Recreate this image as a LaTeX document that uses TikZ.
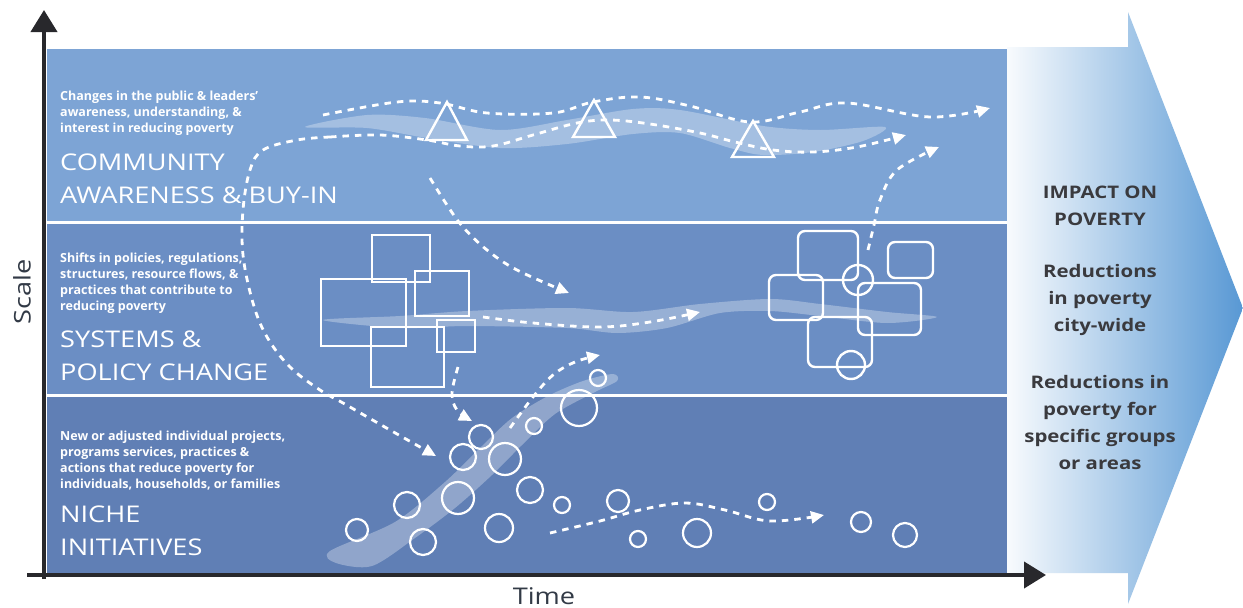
\documentclass[tikz,border=0pt]{standalone}
\usepackage{fontspec}
\setmainfont{Open Sans}
\newfontfamily\widefont{Open Sans}[FakeStretch=1.18]
\usetikzlibrary{arrows.meta}
\definecolor{topband}{RGB}{125,164,213}
\definecolor{midband}{RGB}{107,142,196}
\definecolor{botband}{RGB}{96,127,181}
\definecolor{axisgray}{RGB}{40,40,44}
\definecolor{arrowblue}{RGB}{88,152,212}
\definecolor{textgray}{RGB}{58,58,62}
\definecolor{labelgray}{RGB}{50,58,70}
\begin{document}
\begin{tikzpicture}[x=1pt,y=-1pt,
  shapeline/.style={draw=white, line width=2.4pt},
  roundbox/.style={draw=white, line width=2.4pt, rounded corners=7pt},
  flow/.style={draw=white, line width=2.8pt, dash pattern=on 6.5pt off 6pt, -{Triangle[length=13pt,width=12pt]}},
  stripe/.style={fill=white, fill opacity=0.3},
  axisline/.style={draw=axisgray, line width=4pt, -{Triangle[length=22pt,width=26pt]}},
  smalltxt/.style={text=white, align=left, inner sep=0pt, font=\bfseries\fontsize{12.5}{16}\selectfont},
  bigtxt/.style={text=white, align=left, inner sep=0pt, font=\widefont\fontsize{23}{33}\selectfont},
  impacttxt/.style={text=textgray, align=center, inner sep=0pt, font=\widefont\bfseries\fontsize{17.3}{27}\selectfont},
  axistxt/.style={text=labelgray, inner sep=0pt, font=\widefont\fontsize{23}{24}\selectfont}]
\useasboundingbox (0,0) rectangle (1243,608);
\fill[white] (0,0) rectangle (1243,608);
% big impact arrow
\shade[left color=white!96!arrowblue, right color=arrowblue]
  (1007,47) -- (1128,47) -- (1128,12) -- (1243,308) -- (1128,604) -- (1128,573) -- (1007,573) -- cycle;
% bands
\fill[topband] (47,49) rectangle (1007,221);
\fill[midband] (47,224) rectangle (1007,394);
\fill[botband] (47,397) rectangle (1007,574);
% stripes
\fill[stripe] plot[smooth cycle, tension=0.5] coordinates {(305,127) (367,115) (425,118) (500,130) (567,120) (633,109) (680,110) (763,126) (820,130) (885,127) (863,141) (813,152) (763,155) (730,148) (680,133) (633,134) (567,144) (500,148) (427,138) (367,128)};
\fill[stripe] plot[smooth cycle, tension=0.5] coordinates {(323,320) (400,316) (467,311) (567,308) (633,312) (700,304) (770,299) (820,304) (887,312) (937,317) (887,323) (820,316) (770,311) (720,313) (667,328) (617,333) (567,328) (467,326) (400,328)};
\fill[stripe] plot[smooth cycle, tension=0.5] coordinates {(330,551) (395,522) (445,482) (482,446) (512,418) (548,396) (583,381) (613,374) (617,381) (595,392) (555,414) (522,445) (492,475) (455,508) (415,538) (372,566) (336,563)};
% triangles
\draw[shapeline, line join=miter] (426,140) -- (447,102) -- (467,140) -- cycle;
\draw[shapeline, line join=miter] (573,137) -- (594,100) -- (615,137) -- cycle;
\draw[shapeline, line join=miter] (732,157) -- (753,121) -- (774,157) -- cycle;
% squares
\draw[shapeline] (372,235) rectangle (430,282);
\draw[shapeline] (321,279) rectangle (406,346);
\draw[shapeline] (415,271) rectangle (469,316);
\draw[shapeline] (371,327) rectangle (444,387);
\draw[shapeline] (437,320) rectangle (475,352);
% rounded squares
\draw[roundbox] (798,231) rectangle (858,280);
\draw[roundbox] (769,275) rectangle (823,320);
\draw[roundbox] (858,283) rectangle (921,335);
\draw[roundbox] (888,242) rectangle (933,278);
\draw[roundbox] (808,317) rectangle (872,367);
\draw[shapeline] (858,280) circle[radius=15pt];
\draw[shapeline] (851,365) circle[radius=14pt];
% circles
\foreach \cx/\cy/\r in {357/530/11, 407/505/13, 423/542/13, 458/498/16, 463/457/13, 481/437/12, 505/459/16, 499/528/14, 530/490/13, 534/426/8, 562/505/8, 579/408/18, 598/378/8, 618/501/11, 638/539/8, 697/533/14, 767/502/8, 861/522/10, 905/535/12}
  \draw[white, line width=2.2pt] (\cx,\cy) circle[radius=\r pt];
% dividers
\draw[white, line width=3pt] (47,222.5) -- (1007,222.5);
\draw[white, line width=3pt] (47,395.5) -- (1007,395.5);
% flows
\coordinate (split) at (330,137);
\draw[flow] plot[smooth, tension=0.6] coordinates {(323,115) (397,102) (440,103) (487,113) (553,113) (593,102) (640,97) (690,106) (750,122) (800,112) (847,103) (930,117) (990,108)};
\draw[flow] plot[smooth, tension=0.6] coordinates {(split) (380,135) (427,140) (460,146) (493,146) (533,135) (577,123) (610,120) (650,124) (700,133) (735,142) (773,150) (813,152) (857,147) (906,135)};
\draw[flow] plot[smooth, tension=0.6] coordinates {(split) (297,140) (263,150) (250,170) (243,210) (243,255) (253,303) (267,337) (290,367) (320,390) (343,403) (390,430) (436,456)};
\draw[flow] plot[smooth, tension=0.6] coordinates {(430,178) (447,205) (463,227) (487,250) (517,270) (569,293)};
\draw[flow] plot[smooth, tension=0.6] coordinates {(483,317) (533,323) (600,327) (650,322) (700,312)};
\draw[flow] plot[smooth, tension=0.6] coordinates {(458,367) (452,393) (457,410) (472,421)};
\draw[flow] plot[smooth, tension=0.6] coordinates {(510,428) (533,397) (553,375) (575,362) (600,355)};
\draw[flow] plot[smooth, tension=0.6] coordinates {(550,533) (600,521) (640,510) (685,503) (725,510) (770,521) (824,515)};
\draw[flow] plot[smooth, tension=0.6] coordinates {(868,250) (874,225) (880,200) (897,170) (939,147)};
% axes
\coordinate (ybot) at (44,579);
\coordinate (ytop) at (44,10);
\coordinate (xleft) at (27,575);
\coordinate (xright) at (1046,575);
\draw[axisline] (ybot) -- (ytop);
\draw[axisline] (xleft) -- (xright);
% texts
\node[smalltxt, anchor=west] (desc1) at (60,113) {Changes in the public \& leaders'\\awareness, understanding, \&\\interest in reducing poverty};
\node[bigtxt, anchor=west] (lab1) at (60,179) {COMMUNITY\\AWARENESS \& BUY-IN};
\node[smalltxt, anchor=west] (desc2) at (60,283) {Shifts in policies, regulations,\\structures, resource flows, \&\\practices that contribute to\\reducing poverty};
\node[bigtxt, anchor=west] (lab2) at (60,356) {SYSTEMS \&\\POLICY CHANGE};
\node[smalltxt, anchor=west] (desc3) at (60,461) {New or adjusted individual projects,\\programs services, practices \&\\actions that reduce poverty for\\individuals, households, or families};
\node[bigtxt, anchor=west] (lab3) at (60,531) {NICHE\\INITIATIVES};
\node[impacttxt] (imp1) at (1100,206) {IMPACT ON\\POVERTY};
\node[impacttxt] (imp2) at (1100,300) {Reductions\\in poverty\\city-wide};
\node[impacttxt] (imp3) at (1100,423) {Reductions in\\poverty for\\specific groups\\or areas};
\node[axistxt, rotate=90] (scale) at (22,292) {Scale};
\node[axistxt] (time) at (544,596) {Time};
\end{tikzpicture}
\end{document}
